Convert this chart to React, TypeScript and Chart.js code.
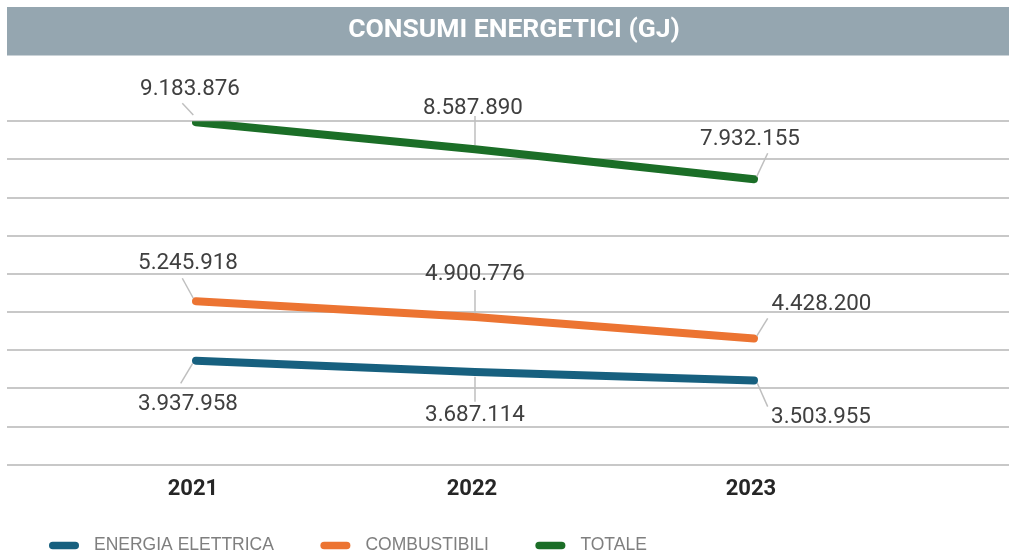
import React, { useEffect, useRef } from "react";
import { Chart, registerables } from "chart.js";

Chart.register(...registerables);

const TITLE = "CONSUMI ENERGETICI (GJ)";
const YEARS = [2021, 2022, 2023];
const SERIES_NAMES = ["ENERGIA ELETTRICA", "COMBUSTIBILI", "TOTALE"];
const ENERGIA_ELETTRICA = [3937958, 3687114, 3503955];
const COMBUSTIBILI = [5245918, 4900776, 4428200];
const TOTALE = [9183876, 8587890, 7932155];
const COLORS = ["#17607f", "#ec7432", "#1b6e27"];
const Y_MIN = 1650000;
const Y_MAX = 9205000;
const GRID_COUNT = 10;

// label layout: [dx, dy] of label centre, and leader [x1, y1, x2, y2] relative to point
const LABEL_OFFSETS = [
  [[-8, 44], [0, 43.5], [67, 37]],
  [[-8, -37.5], [0, -43], [67.5, -34.5]],
  [[-6, -32.5], [-2, -40.5], [-4, -40]],
];
const LEADERS = [
  [[-3.3, 2.6, -15.3, 22.6], [0, 4.6, 0, 29.6], [3.3, 2.8, 13.7, 26.2]],
  [[-2.7, -3, -13.7, -23], [0, -3.7, 0, -27], [2.7, -2.4, 13.7, -20.1]],
  [[-2.7, -7.3, -13.7, -19], [0, -4.4, 0, -33.4], [2.7, -2.5, 13.7, -25.9]],
];

const fmt = (v: number) => String(v).replace(/\B(?=(\d{3})+(?!\d))/g, ".");

const decorPlugin = {
  id: "decor",
  beforeDraw(chart: any) {
    const ctx = chart.ctx;
    ctx.save();
    ctx.fillStyle = "#95a6b0";
    ctx.fillRect(7, 7, chart.width - 7, 48.5);
    ctx.fillStyle = "#ffffff";
    ctx.font = "bold 26.5px Roboto";
    ctx.textAlign = "center";
    ctx.textBaseline = "middle";
    ctx.fillText(TITLE, 514, 30);
    ctx.restore();
  },
  afterDatasetsDraw(chart: any) {
    const ctx = chart.ctx;
    ctx.save();
    chart.data.datasets.forEach((ds: any, di: number) => {
      const meta = chart.getDatasetMeta(di);
      meta.data.forEach((pt: any, i: number) => {
        const [lx1, ly1, lx2, ly2] = LEADERS[di][i];
        ctx.strokeStyle = "#bfbfbf";
        ctx.lineWidth = 1.5;
        ctx.beginPath();
        ctx.moveTo(pt.x + lx1, pt.y + ly1);
        ctx.lineTo(pt.x + lx2, pt.y + ly2);
        ctx.stroke();
        const [dx, dy] = LABEL_OFFSETS[di][i];
        ctx.fillStyle = "#404040";
        ctx.font = "22.4px Roboto";
        ctx.textAlign = "center";
        ctx.textBaseline = "middle";
        ctx.fillText(fmt(ds.data[i].y), pt.x + dx, pt.y + dy);
      });
    });
    ctx.restore();
  },
  afterDraw(chart: any) {
    const ctx = chart.ctx;
    ctx.save();
    let x = 49;
    const y = 545.5;
    ctx.font = "17.5px 'Liberation Sans', Arial, sans-serif";
    ctx.textBaseline = "middle";
    ctx.textAlign = "left";
    SERIES_NAMES.forEach((name, i) => {
      ctx.fillStyle = COLORS[i];
      ctx.beginPath();
      (ctx as any).roundRect(x, y - 3.75, 30, 7.5, 3.75);
      ctx.fill();
      ctx.fillStyle = "#7f7f7f";
      const tx = x + 45;
      ctx.fillText(name, tx, y);
      x = tx + ctx.measureText(name).width + 46.5;
    });
    ctx.restore();
  },
};

export default function App() {
  const ref = useRef<HTMLCanvasElement>(null);
  useEffect(() => {
    if (!ref.current) return;
    Chart.defaults.font.family = "Roboto";
    const seriesValues = [ENERGIA_ELETTRICA, COMBUSTIBILI, TOTALE];
    const chart = new Chart(ref.current, {
      type: "line",
      data: {
        datasets: seriesValues.map((vals, i) => ({
          label: SERIES_NAMES[i],
          data: YEARS.map((yr, j) => ({ x: yr, y: vals[j] })),
          borderColor: COLORS[i],
          backgroundColor: COLORS[i],
          borderWidth: 8,
          borderCapStyle: "round",
          borderJoinStyle: "round",
          pointRadius: 0,
          pointHoverRadius: 0,
          tension: 0,
          fill: false,
        })),
      },
      options: {
        responsive: false,
        animation: false,
        events: [],
        layout: { padding: { top: 121.3, left: 7, right: 0, bottom: 0 } },
        plugins: {
          legend: { display: false },
          title: { display: false },
          tooltip: { enabled: false },
        },
        scales: {
          x: {
            type: "linear",
            position: "bottom",
            min: 2020.3226,
            max: 2023.914,
            grid: { display: false, drawTicks: false },
            border: { display: false },
            ticks: {
              color: "#262626",
              font: { size: 22, weight: "bold", family: "Roboto" },
              padding: 12,
              labelOffset: -3,
              callback: (v: any) => String(v),
            },
            afterBuildTicks: (s: any) => {
              s.ticks = YEARS.map((v) => ({ value: v }));
            },
            afterFit: (s: any) => {
              s.height = 94.3;
            },
          },
          y: {
            type: "linear",
            min: Y_MIN,
            max: Y_MAX,
            grid: { color: "#c8c8c8", lineWidth: 2, drawTicks: false },
            border: { display: false },
            ticks: { display: false },
            afterBuildTicks: (s: any) => {
              const step = (Y_MAX - Y_MIN) / (GRID_COUNT - 1);
              s.ticks = Array.from({ length: GRID_COUNT }, (_, k) => ({ value: Y_MIN + step * k }));
            },
            afterFit: (s: any) => {
              s.width = 0;
            },
          },
        },
      },
      plugins: [decorPlugin],
    } as any);
    return () => chart.destroy();
  }, []);
  return (
    <div style={{ position: "absolute", left: 0, top: 0, width: 1009, height: 559 }}>
      <canvas ref={ref} width={1009} height={559} style={{ display: "block" }} />
    </div>
  );
}
